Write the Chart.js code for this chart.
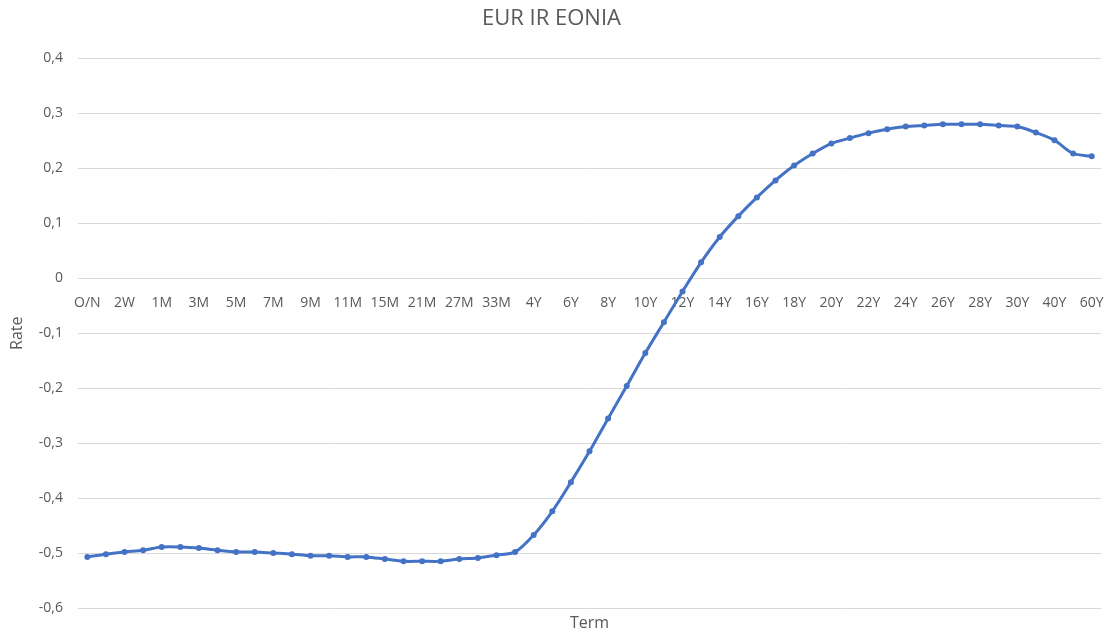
<!DOCTYPE html>
<html>
<head>
<meta charset="utf-8">
<script src="https://cdn.jsdelivr.net/npm/chart.js@4.4.1/dist/chart.umd.min.js"></script>
<style>
  html, body { margin: 0; padding: 0; background: #ffffff; }
  #wrap { width: 1105px; height: 634px; position: relative; }
</style>
</head>
<body>
<div id="wrap"><canvas id="curve" width="1105" height="634"></canvas></div>
<script>
// EONIA discount curve: tenor buckets and zero rates (%)
const terms = [
  'O/N','1W','2W','3W','1M','2M','3M','4M','5M','6M','7M','8M','9M','10M','11M','12M',
  '15M','18M','21M','24M','27M','30M','33M','3Y',
  '4Y','5Y','6Y','7Y','8Y','9Y','10Y','11Y','12Y','13Y','14Y','15Y','16Y','17Y','18Y','19Y',
  '20Y','21Y','22Y','23Y','24Y','25Y','26Y','27Y','28Y','29Y','30Y','35Y','40Y','50Y','60Y'
];
const rates = [
  -0.507, -0.502, -0.498, -0.495, -0.489, -0.489, -0.491, -0.495, -0.498, -0.498, -0.500, -0.502,
  -0.505, -0.505, -0.507, -0.507, -0.511, -0.515, -0.515, -0.515, -0.511, -0.509, -0.504, -0.498,
  -0.467, -0.424, -0.371, -0.315, -0.255, -0.196, -0.136, -0.080, -0.024, 0.029, 0.075, 0.113,
  0.147, 0.178, 0.205, 0.227, 0.245, 0.255, 0.264, 0.271, 0.276, 0.278, 0.280, 0.280,
  0.280, 0.278, 0.276, 0.265, 0.251, 0.227, 0.222
];
const yTicks = [-0.6, -0.5, -0.4, -0.3, -0.2, -0.1, 0, 0.1, 0.2, 0.3, 0.4];

const grey = '#595959';
const gridGrey = '#d9d9d9';
const lineBlue = '#4472C4';
const fontFamily = '"Open Sans", "Noto Sans", sans-serif';

function commaDecimal(v) {
  const r = Math.round(v * 10) / 10;
  if (r === 0) return '0';
  return r.toFixed(1).replace('.', ',');
}

// bottom-centred horizontal axis caption (the category axis itself sits on y = 0)
const termCaption = {
  id: 'termCaption',
  afterDraw(chart) {
    const { ctx, chartArea } = chart;
    ctx.save();
    ctx.font = '16px ' + fontFamily;
    ctx.fillStyle = grey;
    ctx.textAlign = 'center';
    ctx.textBaseline = 'middle';
    ctx.fillText('Term', (chartArea.left + chartArea.right) / 2, chartArea.bottom + 15);
    ctx.restore();
  }
};

new Chart(document.getElementById('curve'), {
  type: 'line',
  data: {
    labels: terms,
    datasets: [{
      label: 'EONIA',
      data: rates,
      borderColor: lineBlue,
      backgroundColor: lineBlue,
      borderWidth: 3,
      pointRadius: 3,
      pointBorderWidth: 0,
      pointBackgroundColor: lineBlue,
      tension: 0.3,
      fill: false
    }]
  },
  plugins: [termCaption],
  options: {
    responsive: false,
    animation: false,
    devicePixelRatio: 1,
    layout: { padding: { top: 0, right: 2, bottom: 26, left: 0 } },
    plugins: {
      legend: { display: false },
      tooltip: { enabled: false },
      title: {
        display: true,
        text: 'EUR IR EONIA',
        color: grey,
        font: { family: fontFamily, size: 22, weight: 'normal' },
        padding: { top: 6, bottom: 26 }
      }
    },
    scales: {
      x: {
        position: { y: 0 },
        offset: true,
        afterFit: function (axis) { axis.paddingLeft = 0; axis.paddingRight = 0; },
        grid: { display: false, drawTicks: false },
        border: { display: true, color: gridGrey, width: 1 },
        ticks: {
          autoSkip: false,
          maxRotation: 0,
          minRotation: 0,
          padding: 16,
          color: grey,
          font: { family: fontFamily, size: 14 },
          callback: function (val, idx) { return idx % 2 === 0 ? terms[idx] : ''; }
        }
      },
      y: {
        min: -0.6,
        max: 0.4,
        afterBuildTicks: function (axis) { axis.ticks = yTicks.map(v => ({ value: v })); },
        afterFit: function (axis) { axis.width = 78; },
        grid: { color: gridGrey, drawTicks: false },
        border: { display: false },
        title: {
          display: true,
          text: 'Rate',
          color: grey,
          font: { family: fontFamily, size: 16 },
          padding: { top: 8, bottom: 0 }
        },
        ticks: {
          padding: 15,
          color: grey,
          font: { family: fontFamily, size: 14 },
          callback: function (v) { return commaDecimal(v); }
        }
      }
    }
  }
});
</script>
</body>
</html>
